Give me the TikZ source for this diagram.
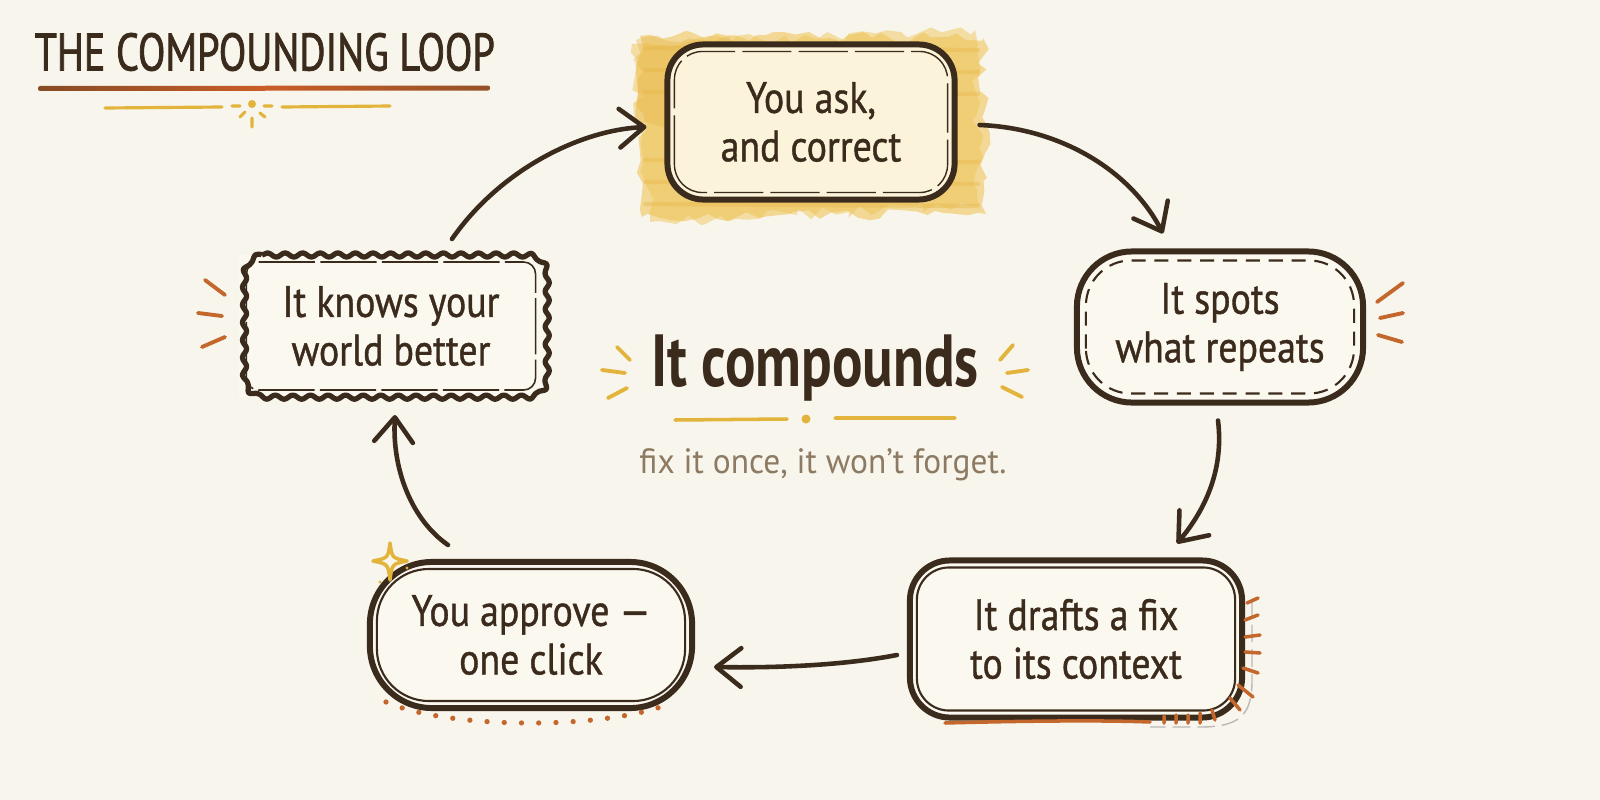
\documentclass[tikz,border=0pt]{standalone}
\usepackage{fontspec}
\setmainfont{PT Sans}
\newfontfamily\hand{PT Sans}[FakeStretch=0.86, FakeBold=0.9]
\newfontfamily\titlef{PT Sans}[FakeStretch=0.76, FakeBold=1.4]
\newfontfamily\bigf{PT Sans}[FakeStretch=0.77]
\newfontfamily\subf{PT Sans}[FakeStretch=0.95]
\usetikzlibrary{arrows.meta,decorations.pathmorphing,calc}
\definecolor{bg}{HTML}{F8F5EC}
\definecolor{ink}{HTML}{3B2B1C}
\definecolor{orng}{HTML}{C4672C}
\definecolor{gold}{HTML}{E2B43C}
\definecolor{brush}{HTML}{EFC65A}
\definecolor{brushdk}{HTML}{E6B440}
\definecolor{topfill}{HTML}{FBF3DA}
\definecolor{boxfill}{HTML}{FBF8F0}
\definecolor{subc}{HTML}{8C7B62}
\begin{document}
\begin{tikzpicture}[x=0.01cm,y=-0.01cm,
  box/.style={draw=ink, line width=1.7pt, fill=boxfill, align=center, text=ink,
    font=\hand\fontsize{12.5}{13.8}\selectfont, inner sep=0pt},
  innerline/.style={draw=ink, line width=0.5pt},
  conn/.style={draw=ink, line width=1.3pt, line cap=round,
    -{Straight Barb[round,length=7pt,width=11pt]}},
  ray/.style={line width=1.1pt, line cap=round},
  dotrow/.style={draw=orng, line width=1.5pt, line cap=round, dash pattern=on 0pt off 4.9pt}
]
\fill[bg] (0,0) rectangle (1600,800);
\useasboundingbox (0,0) rectangle (1600,800);

% ---------- title ----------
\node[anchor=west, text=ink, font=\titlef\fontsize{15}{18}\selectfont, inner sep=0pt] (title) at (34,52) {THE COMPOUNDING LOOP};
\shade[left color=ink!45!orng, right color=ink!35!orng, middle color=orng!90!red, rounded corners=0.6pt]
  (38,86) -- (490,85.5) -- (490,90.5) -- (38,91) -- cycle;
\draw[gold, line width=0.9pt, line cap=round] (105,108) -- (222,107) (282,107) -- (390,106);
\fill[gold] (252,104) circle (4);
\draw[gold, ray, line width=0.9pt] (232,106) -- (240,106) (264,106) -- (272,106)
  (240,117) -- (245,112) (252,118) -- (252,127) (260,113) -- (265,117);

% ---------- top box with brush ----------
\pgfmathsetseed{7}
\fill[brush, opacity=0.6, decorate, decoration={random steps, segment length=3pt, amplitude=1.6pt}]
  (640,36) -- (983,38) -- (986,214) -- (642,217) -- cycle;
\pgfmathsetseed{11}
\fill[brush, opacity=0.5, decorate, decoration={random steps, segment length=3pt, amplitude=1.8pt}]
  (632,44) -- (975,30) -- (980,206) -- (650,222) -- cycle;
\pgfmathsetseed{3}
\fill[brushdk, opacity=0.35, decorate, decoration={random steps, segment length=3pt, amplitude=1.5pt}]
  (636,40) -- (730,36) -- (725,120) -- (640,125) -- cycle;
\foreach \yy in {48,70,92,160,182,204}{
  \draw[brushdk, opacity=0.35, line width=1.2pt, line cap=round] (645,\yy) -- (978,\yy+2);
}
\node[box, fill=topfill, minimum width=2.87cm, minimum height=1.55cm, rounded corners=0.36cm] (ask) at (811,122) {You ask,\\and correct};
\draw[innerline, line width=0.4pt, dash pattern=on 14pt off 2pt, rounded corners=0.28cm]
  ([shift={(10,-10)}]ask.south west) rectangle ([shift={(-10,10)}]ask.north east);

% ---------- right box ----------
\node[box, minimum width=2.86cm, minimum height=1.51cm, rounded corners=0.55cm] (spots) at (1220,327) {It spots\\what repeats};
\draw[innerline, line width=0.6pt, dash pattern=on 4pt off 2.5pt, rounded corners=0.45cm]
  ([shift={(12,-12)}]spots.south west) rectangle ([shift={(-12,12)}]spots.north east);
\draw[orng, ray] (1377,302) -- (1403,283) (1380,318) -- (1403,313) (1378,335) -- (1402,342);

% ---------- left box (wavy) ----------
\node[box, draw=none, minimum width=3.03cm, minimum height=1.42cm] (know) at (391,326) {It knows your\\world better};
\draw[ink, line width=1.5pt, line join=round, decorate, decoration={snake, segment length=5pt, amplitude=0.6pt}]
  (262,255) -- (521,255) .. controls (535,255) and (543,263) .. (543,277)
  -- (543,375) .. controls (543,389) and (535,397) .. (521,397)
  -- (262,397) .. controls (248,397) and (240,389) .. (240,375)
  -- (240,277) .. controls (240,263) and (248,255) .. (262,255) -- cycle;
\draw[innerline, line width=0.45pt, dash pattern=on 16pt off 1.5pt, rounded corners=0.12cm]
  ([shift={(10,-10)}]know.south west) rectangle ([shift={(-10,10)}]know.north east);
\draw[orng, ray] (205,280) -- (225,295) (198,313) -- (222,316) (202,347) -- (225,337);

% ---------- bottom left box ----------
\node[box, minimum width=3.22cm, minimum height=1.46cm, rounded corners=0.62cm] (approve) at (531,635) {You approve —\\one click};
\draw[innerline, line width=0.6pt, rounded corners=0.52cm]
  ([shift={(10,-10)}]approve.south west) rectangle ([shift={(-10,10)}]approve.north east);
\draw[dotrow] (386,702) .. controls (450,730) and (610,730) .. (674,702);
\draw[gold, line width=1pt, line join=round]
  (390,543) .. controls (392,558) .. (407,561) .. controls (392,564) .. (390,580)
  .. controls (388,564) .. (373,561) .. controls (388,558) .. (390,543) -- cycle;
\fill[gold] (380,582) circle (1.6) (407,568) circle (1.6);

% ---------- bottom right box ----------
\node[box, minimum width=3.32cm, minimum height=1.57cm, rounded corners=0.4cm] (draft) at (1076,639) {It drafts a fix\\to its context};
\draw[innerline, line width=0.6pt, rounded corners=0.32cm]
  ([shift={(10,-10)}]draft.south west) rectangle ([shift={(-10,10)}]draft.north east);
\draw[gray!55, line width=0.4pt, dash pattern=on 5pt off 2pt]
  (1252,600) -- (1252,680) .. controls (1252,715) and (1240,727) .. (1200,727) -- (1150,727);
\draw[orng, line width=1pt, line cap=round] (945,723) .. controls (1020,721) and (1100,720) .. (1150,722);
\draw[orng, ray, line width=1pt]
  (1247,603) -- (1258,598) (1245,620) -- (1258,615) (1245,637) -- (1260,635)
  (1245,652) -- (1260,653) (1243,668) -- (1258,673) (1238,685) -- (1253,697)
  (1230,698) -- (1240,710) (1212,710) -- (1215,720) (1200,713) -- (1200,723)
  (1188,715) -- (1188,723) (1176,715) -- (1176,723) (1164,716) -- (1164,723);

% ---------- centre ----------
\node[text=ink, font=\bigf\bfseries\fontsize{21}{25}\selectfont, inner sep=0pt] (centre) at (815,368) {It compounds};
\draw[gold, ray] (617,347) -- (630,360) (602,370) -- (625,373) (608,398) -- (627,388)
  (1013,345) -- (1000,360) (1007,373) -- (1028,370) (1002,387) -- (1022,397);
\draw[gold, line width=1pt, line cap=round] (675,420) -- (787,419) (835,418) -- (955,418);
\fill[gold] (806,419) circle (4.5);
\node[text=subc, font=\subf\fontsize{10}{12}\selectfont, inner sep=0pt] (sub) at (823,465) {fix it once, it won’t forget.};

% ---------- connectors ----------
\draw[conn] ([shift={(61,-13)}]know.north) .. controls (500,170) and (580,130) .. ([shift={(-18,5)}]ask.west);
\draw[conn] ([shift={(22,3)}]ask.east) .. controls (1060,128) and (1130,170) .. ([shift={(-57,-15)}]spots.north);
\draw[conn] ([shift={(-2,15)}]spots.south) .. controls (1224,470) and (1205,510) .. ([shift={(101,-14)}]draft.north);
\draw[conn] ([shift={(-10,16)}]draft.west) .. controls (840,666) and (770,668) .. ([shift={(19,32)}]approve.east);
\draw[conn] ([shift={(-83,-14)}]approve.north) .. controls (412,520) and (392,470) .. ([shift={(4,15)}]know.south);
\end{tikzpicture}
\end{document}
